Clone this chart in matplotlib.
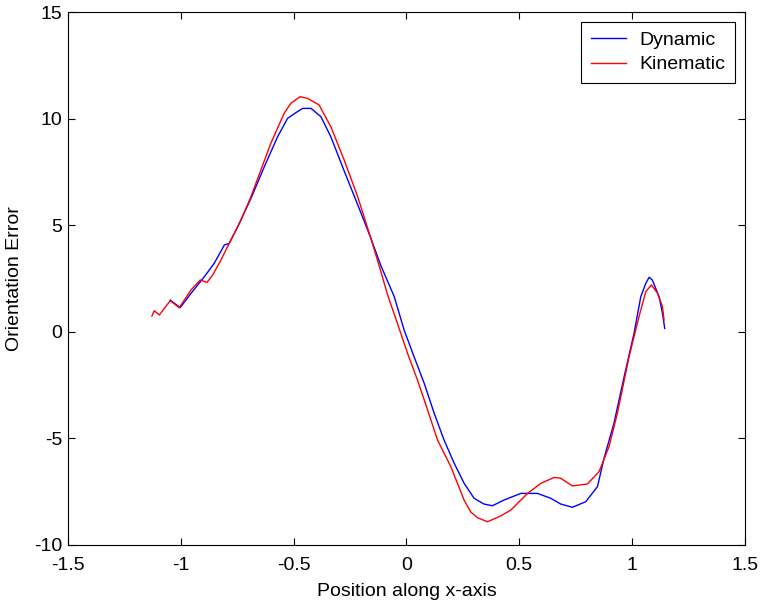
import matplotlib
matplotlib.use("Agg")
import matplotlib.pyplot as plt

plt.rcParams['font.family'] = ['Liberation Sans', 'DejaVu Sans']

dyn_x = [-1.047, -1.003, -0.955, -0.896, -0.852, -0.807, -0.785, -0.748, -0.689, -0.630,
         -0.571, -0.527, -0.490, -0.460, -0.423, -0.379, -0.335, -0.276, -0.202, -0.158,
         -0.113, -0.054, -0.010, 0.034, 0.079, 0.123, 0.167, 0.212, 0.256, 0.300,
         0.344, 0.381, 0.433, 0.507, 0.581, 0.640, 0.684, 0.736, 0.795, 0.847,
         0.876, 0.920, 0.965, 1.009, 1.039, 1.061, 1.076, 1.090, 1.120, 1.135, 1.145]
dyn_y = [1.49, 1.13, 1.80, 2.58, 3.21, 4.07, 4.15, 4.93, 6.26, 7.74,
         9.15, 10.01, 10.28, 10.48, 10.48, 10.09, 9.15, 7.55, 5.59, 4.40,
         3.10, 1.65, 0.08, -1.17, -2.42, -3.82, -5.08, -6.17, -7.11, -7.81,
         -8.08, -8.16, -7.89, -7.58, -7.58, -7.81, -8.08, -8.23, -7.97, -7.26,
         -5.93, -4.29, -2.11, -0.07, 1.65, 2.27, 2.56, 2.43, 1.65, 0.87, 0.16]

kin_x = [-1.128, -1.118, -1.095, -1.047, -1.007, -0.955, -0.914, -0.884, -0.859, -0.822,
         -0.778, -0.733, -0.689, -0.645, -0.601, -0.542, -0.512, -0.471, -0.438, -0.387,
         -0.335, -0.276, -0.216, -0.158, -0.113, -0.084, -0.040, 0.005, 0.049, 0.094,
         0.138, 0.197, 0.226, 0.256, 0.285, 0.315, 0.359, 0.418, 0.463, 0.537, 0.596, 0.655,
         0.684, 0.736, 0.802, 0.854, 0.898, 0.935, 0.987, 1.031, 1.061, 1.086,
         1.113, 1.135, 1.142]
kin_y = [0.74, 0.99, 0.79, 1.46, 1.13, 1.96, 2.43, 2.32, 2.66, 3.37,
         4.31, 5.24, 6.34, 7.59, 8.84, 10.25, 10.72, 11.03, 10.95, 10.64,
         9.62, 8.06, 6.34, 4.40, 2.82, 1.75, 0.40, -1.01, -2.26, -3.67,
         -5.08, -6.33, -7.10, -7.90, -8.45, -8.72, -8.91, -8.64, -8.36, -7.58, -7.11, -6.83,
         -6.87, -7.23, -7.14, -6.56, -5.39, -3.83, -1.17, 0.71, 1.88, 2.20,
         1.81, 1.18, 0.55]

x_ticks = [-1.5, -1, -0.5, 0, 0.5, 1, 1.5]
x_labels = ['-1.5', '-1', '-0.5', '0', '0.5', '1', '1.5']
y_ticks = [-10, -5, 0, 5, 10, 15]
y_labels = ['-10', '-5', '0', '5', '10', '15']

fig = plt.figure(figsize=(7.6, 6.04), dpi=100)
ax = fig.add_axes([0.0895, 0.0977, 0.8905, 0.8824])
ax.plot(dyn_x, dyn_y, color='#0000ff', lw=1.0, label='Dynamic')
ax.plot(kin_x, kin_y, color='#ff0000', lw=1.0, label='Kinematic')
ax.set_xlim(-1.5, 1.5)
ax.set_ylim(-10, 15)
ax.set_xticks(x_ticks)
ax.set_xticklabels(x_labels)
ax.set_yticks(y_ticks)
ax.set_yticklabels(y_labels)
ax.tick_params(direction='in', length=5, top=True, right=True, labelsize=14, width=0.8)
ax.tick_params(axis='x', pad=9)
ax.tick_params(axis='y', pad=4)
for s in ax.spines.values():
    s.set_linewidth(0.8)
ax.set_xlabel('Position along x-axis', fontsize=14, labelpad=6)
ax.set_ylabel('Orientation Error', fontsize=14, labelpad=8)
leg = ax.legend(loc='upper right', fontsize=14, fancybox=False, framealpha=1,
                edgecolor='black', borderaxespad=0.5, handlelength=1.8,
                handletextpad=0.7, borderpad=0.5, labelspacing=0.35)
leg.get_frame().set_linewidth(0.8)
fig.savefig('out.png', dpi=100)
